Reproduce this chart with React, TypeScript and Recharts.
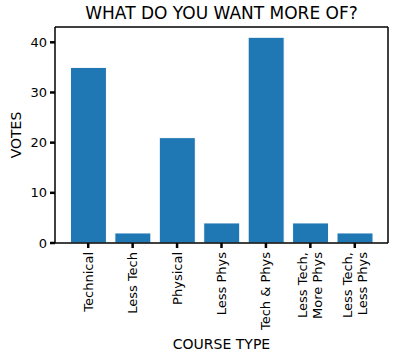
import React from "react";
import { BarChart, Bar, XAxis, YAxis, CartesianGrid } from "recharts";

const categories = [
  "Technical",
  "Less Tech",
  "Physical",
  "Less Phys",
  "Tech & Phys",
  "Less Tech,\nMore Phys",
  "Less Tech,\nLess Phys",
];
const votes = [35, 2, 21, 4, 41, 4, 2];
const yTicks = [0, 10, 20, 30, 40];

const data = categories.map((c, i) => ({ name: c, votes: votes[i] }));

const FONT = "'DejaVu Sans', 'Open Sans', sans-serif";

const XTick = (props: any) => {
  const { x, y, payload } = props;
  const lines = String(payload.value).split("\n");
  const lh = 15;
  const start = -((lines.length - 1) * lh) / 2;
  return (
    <g transform={`translate(${x},${y})`}>
      <text
        transform="rotate(-90)"
        textAnchor="end"
        fontSize={13}
        fontFamily={FONT}
        fill="#000"
      >
        {lines.map((l, i) => (
          <tspan key={i} x={0} y={start + i * lh} dy="0.35em">
            {l}
          </tspan>
        ))}
      </text>
    </g>
  );
};

export default function App() {
  return (
    <div
      style={{
        position: "absolute",
        left: 0,
        top: 0,
        width: 396,
        height: 361,
        background: "#fff",
        fontFamily: FONT,
      }}
    >
      <div
        style={{
          position: "absolute",
          left: 55,
          width: 333,
          top: 3,
          textAlign: "center",
          fontSize: 17,
          color: "#000",
        }}
      >
        WHAT DO YOU WANT MORE OF?
      </div>
      <div
        style={{
          position: "absolute",
          left: 16,
          top: 135,
          transform: "translate(-50%,-50%) rotate(-90deg)",
          fontSize: 14,
          whiteSpace: "nowrap",
        }}
      >
        VOTES
      </div>
      <div
        style={{
          position: "absolute",
          left: 55,
          width: 333,
          top: 336,
          textAlign: "center",
          fontSize: 14,
        }}
      >
        COURSE TYPE
      </div>
      <BarChart
        width={396}
        height={361}
        data={data}
        margin={{ top: 27, right: 8, bottom: 18, left: 15 }}
        barCategoryGap="10%"
      >
        <CartesianGrid
          stroke="#000"
          strokeWidth={1.5}
          horizontalCoordinatesGenerator={(p: any) => [p.offset.top]}
          verticalCoordinatesGenerator={(p: any) => [p.offset.left + p.offset.width]}
        />
        <XAxis
          dataKey="name"
          interval={0}
          height={100}
          padding={{ left: 11, right: 11 }}
          axisLine={{ stroke: "#000", strokeWidth: 1.5 }}
          tickLine={{ stroke: "#000", strokeWidth: 2.5 }}
          tickSize={5}
          tickMargin={4}
          tick={<XTick />}
        />
        <YAxis
          domain={[0, 43.05]}
          ticks={yTicks}
          width={40}
          allowDataOverflow
          axisLine={{ stroke: "#000", strokeWidth: 1.5 }}
          tickLine={{ stroke: "#000", strokeWidth: 2.5 }}
          tickSize={5}
          tickMargin={3}
          tick={{ fill: "#000", fontSize: 13, fontFamily: FONT }}
        />
        <Bar
          dataKey="votes"
          fill="#1f77b4"
          stroke="#ffffff"
          strokeWidth={1}
          isAnimationActive={false}
        />
      </BarChart>
    </div>
  );
}
